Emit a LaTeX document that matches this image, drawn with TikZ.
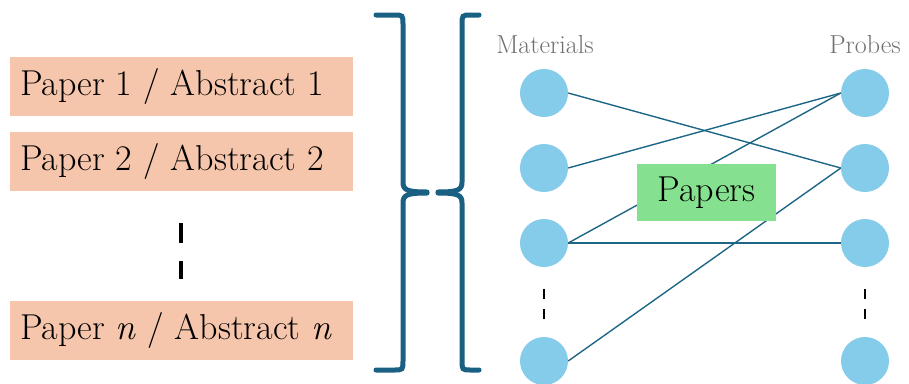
\documentclass[tikz,border=0pt]{standalone}
\usepackage{tikz}
\usetikzlibrary{positioning,calc}
\definecolor{peachbox}{RGB}{246, 198, 172}
\definecolor{bracenavy}{RGB}{26, 96, 130}
\definecolor{edgeteal}{RGB}{30, 102, 134}
\definecolor{nodesky}{RGB}{133, 203, 234}
\definecolor{papergreen}{RGB}{133, 224, 143}
\definecolor{labelgray}{RGB}{112, 112, 112}
\newcommand{\boxline}[1]{\makebox[323pt][l]{#1}}

\begin{document}
\begin{tikzpicture}[x=1pt,y=-1pt,
    paperbox/.style={fill=peachbox,anchor=west,minimum height=59pt,
      inner xsep=10pt,inner ysep=0pt,font=\fontsize{36}{40}\selectfont},
    vertex/.style={circle,fill=nodesky,minimum size=48pt,inner sep=0pt},
    link/.style={edgeteal,line width=1.4pt},
    brace/.style={bracenavy,line width=5pt,line cap=round}]
    \useasboundingbox (0,0) rectangle (909,383);

    % Papers / abstracts
    \node[paperbox] (paper1) at (10,86.5) {\boxline{Paper 1 / Abstract 1}};
    \node[paperbox] (paper2) at (10,161.5) {\boxline{Paper 2 / Abstract 2}};
    \node[paperbox] (papern) at (10,330.5) {\boxline{Paper \textit{n} / Abstract \textit{n}}};
    \coordinate (dotsa) at (181,223);
    \coordinate (dotsb) at (181,279);
    \draw[line width=4pt,dash pattern=on 20pt off 18pt] (dotsa) -- (dotsb);

    % Braces
    \draw[brace] (376,15) -- (394,15) .. controls (403,15) .. (403,25) -- (403,182)
      .. controls (403,190) and (407,192) .. (427,192);
    \draw[brace] (427,193) .. controls (407,193) and (403,195) .. (403,203) -- (403,360)
      .. controls (403,370) .. (394,370) -- (376,370);
    \draw[brace] (479,15) -- (471,15) .. controls (462,15) .. (462,25) -- (462,182)
      .. controls (462,190) and (458,192) .. (438,192);
    \draw[brace] (438,193) .. controls (458,193) and (462,195) .. (462,203) -- (462,360)
      .. controls (462,370) .. (471,370) -- (479,370);

    % Bipartite graph
    \node[labelgray,font=\fontsize{26}{28}\selectfont] (mlabel) at (545,45) {Materials};
    \node[labelgray,font=\fontsize{26}{28}\selectfont] (plabel) at (865,45) {Probes};
    \foreach \i/\y in {1/93,2/168,3/243,4/361} {
      \node[vertex] (mat\i) at (544,\y) {};
      \node[vertex] (prb\i) at (865,\y) {};
    }
    \coordinate (mdotsa) at (544,289);
    \coordinate (mdotsb) at (544,320);
    \coordinate (pdotsa) at (865,289);
    \coordinate (pdotsb) at (865,320);
    \draw[line width=2.2pt,dash pattern=on 10pt off 10pt] (mdotsa) -- (mdotsb);
    \draw[line width=2.2pt,dash pattern=on 10pt off 10pt] (pdotsa) -- (pdotsb);

    \draw[link] (mat1.east) -- (prb2.west);
    \draw[link] (mat2.east) -- (prb1.west);
    \draw[link] (mat3.east) -- (prb1.west);
    \draw[link] (mat3.east) -- (prb3.west);
    \draw[link] (mat4.east) -- (prb2.west);

    \node[fill=papergreen,minimum width=139pt,minimum height=57pt,inner sep=0pt,
      font=\fontsize{36}{38}\selectfont] (papers) at (706.5,192.5) {Papers};
\end{tikzpicture}
\end{document}
